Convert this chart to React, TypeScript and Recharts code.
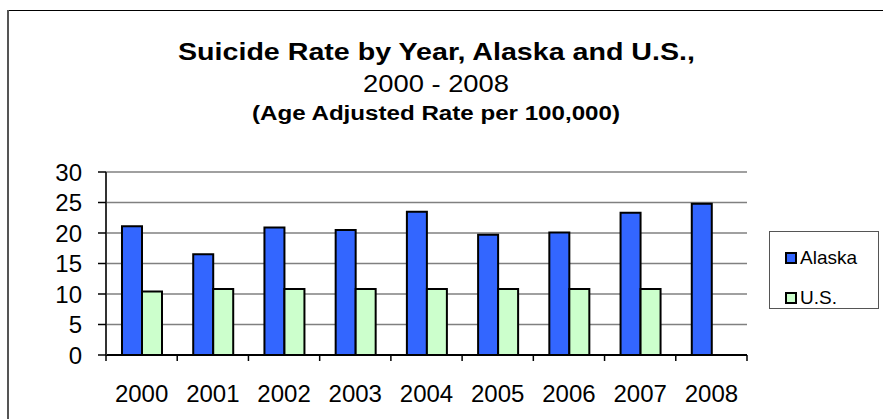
import React from 'react';
import { BarChart, Bar, XAxis, YAxis, CartesianGrid, Legend } from 'recharts';

const years = ['2000', '2001', '2002', '2003', '2004', '2005', '2006', '2007', '2008'];
const alaskaRates = [21.1, 16.5, 20.9, 20.5, 23.5, 19.7, 20.1, 23.3, 24.8];
const usRates: (number | null)[] = [10.4, 10.8, 10.8, 10.8, 10.8, 10.8, 10.8, 10.8, null];
const rateTicks = [0, 5, 10, 15, 20, 25, 30];

const titleLines = [
  'Suicide Rate by Year, Alaska and U.S.,',
  '2000 - 2008',
  '(Age Adjusted Rate per 100,000)',
];

const data = years.map((year, i) => ({
  year,
  Alaska: alaskaRates[i],
  'U.S.': usRates[i],
}));

const FONT = "Arial, 'Liberation Sans', sans-serif";

const YearTick = (props: any) => {
  const { x, y, payload, index, visibleTicksCount } = props;
  const half = payload?.offset ?? 0;
  return (
    <g>
      <line x1={x - half} x2={x - half} y1={y} y2={y + 6} stroke="#000" strokeWidth={1.5} />
      {index === visibleTicksCount - 1 && (
        <line x1={x + half} x2={x + half} y1={y} y2={y + 6} stroke="#000" strokeWidth={1.5} />
      )}
      <text x={x} y={y + 47} textAnchor="middle" fontSize={24} fill="#000" fontFamily={FONT}>
        {payload.value}
      </text>
    </g>
  );
};

const LegendBox = (props: any) => {
  const { payload } = props;
  return (
    <div
      style={{
        width: 110,
        height: 78,
        border: '1.5px solid #555',
        boxSizing: 'border-box',
        background: '#fff',
        paddingTop: 10,
        paddingLeft: 15,
        fontFamily: FONT,
        fontSize: 19,
        color: '#000',
      }}
    >
      {(payload || []).map((entry: any) => (
        <div key={entry.value} style={{ display: 'flex', alignItems: 'center', height: 32, marginBottom: 8 }}>
          <span
            style={{
              display: 'inline-block',
              width: 8,
              height: 8,
              background: entry.color,
              border: '2px solid #000',
              marginRight: 3,
            }}
          />
          <span style={{ lineHeight: '20px' }}>{entry.value}</span>
        </div>
      ))}
    </div>
  );
};

export default function App() {
  return (
    <div style={{ position: 'absolute', left: 0, top: 0, width: 883, height: 419, background: '#fff' }}>
      <svg width={883} height={419} style={{ position: 'absolute', left: 0, top: 0 }}>
        <line x1={8} x2={883} y1={10.5} y2={10.5} stroke="#000" strokeWidth={1} />
        <line x1={8} x2={8} y1={10} y2={419} stroke="#555" strokeWidth={2} />
        <text x={436.5} y={60} textAnchor="middle" fontSize={24} fontWeight="bold" fontFamily={FONT}
          textLength={517} lengthAdjust="spacingAndGlyphs">
          {titleLines[0]}
        </text>
        <text x={436} y={92} textAnchor="middle" fontSize={24} fontFamily={FONT}
          textLength={146} lengthAdjust="spacingAndGlyphs">
          {titleLines[1]}
        </text>
        <text x={436} y={120} textAnchor="middle" fontSize={20} fontWeight="bold" fontFamily={FONT}
          textLength={368} lengthAdjust="spacingAndGlyphs">
          {titleLines[2]}
        </text>
      </svg>
      <div style={{ position: 'absolute', left: 0, top: 0 }}>
        <BarChart
          width={883}
          height={419}
          data={data}
          margin={{ top: 172, right: 136, bottom: 24, left: 6 }}
          barGap={0}
          barSize={20}
        >
          <CartesianGrid vertical={false} stroke="#808080" strokeWidth={1.5} />
          <XAxis
            dataKey="year"
            height={40}
            tickSize={0}
            tickMargin={0}
            tickLine={false}
            axisLine={{ stroke: '#000', strokeWidth: 2 }}
            tick={<YearTick />}
            interval={0}
          />
          <YAxis
            width={100}
            domain={[0, 30]}
            ticks={rateTicks}
            interval={0}
            tickSize={8}
            tickMargin={16}
            tickLine={{ stroke: '#000', strokeWidth: 1.5 }}
            axisLine={{ stroke: '#333', strokeWidth: 2 }}
            tick={{ fontSize: 24, fill: '#000', fontFamily: FONT }}
          />
          <YAxis
            yAxisId="frame"
            orientation="right"
            width={0}
            domain={[0, 30]}
            tick={false}
            tickLine={false}
            axisLine={{ stroke: '#999', strokeWidth: 1.5 }}
          />
          <Legend
            layout="vertical"
            align="center"
            verticalAlign="middle"
            content={<LegendBox />}
            wrapperStyle={{ left: 769, top: 231, width: 110 }}
          />
          <Bar dataKey="Alaska" fill="#3366FF" stroke="#000" strokeWidth={2} isAnimationActive={false} />
          <Bar dataKey="U.S." fill="#CCFFCC" stroke="#000" strokeWidth={2} isAnimationActive={false} />
        </BarChart>
      </div>
    </div>
  );
}
